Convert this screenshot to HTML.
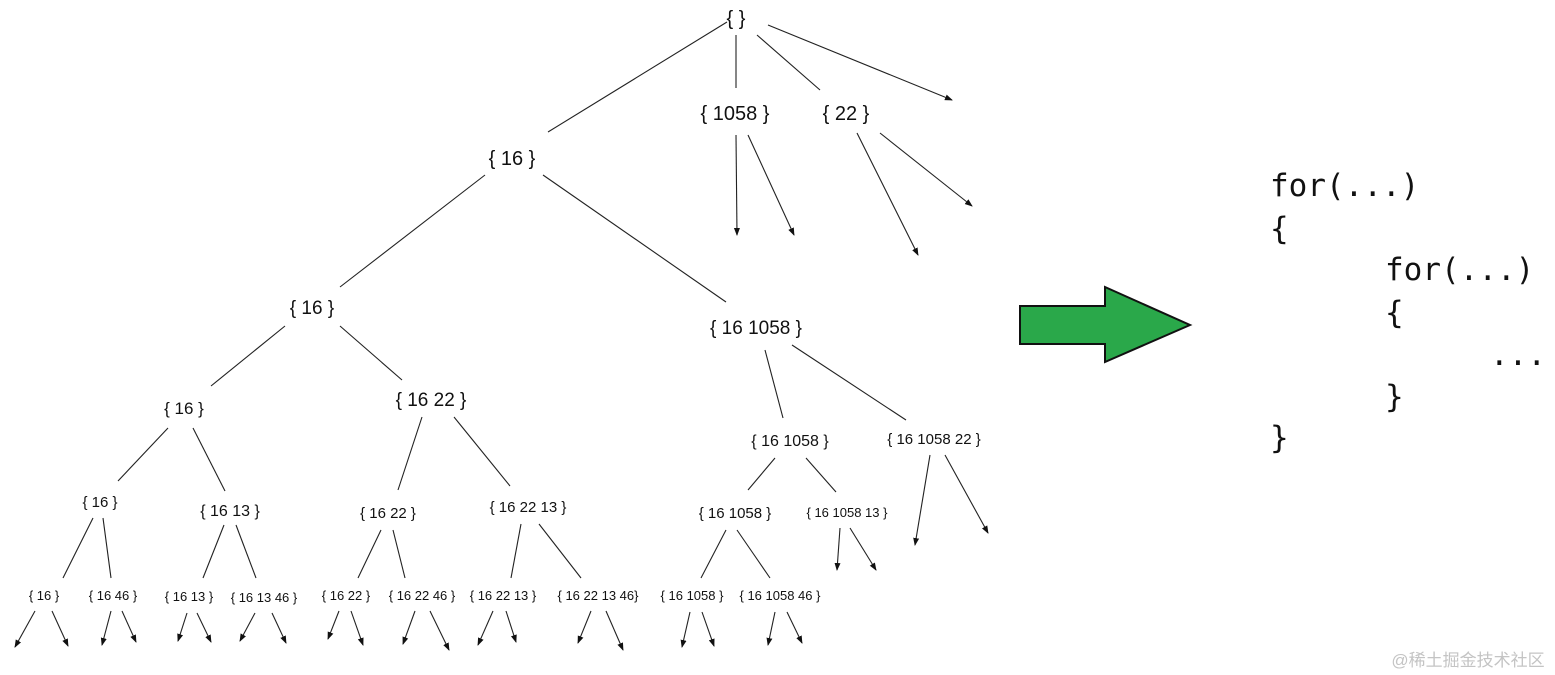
<!DOCTYPE html>
<html><head><meta charset="utf-8"><style>
html,body{margin:0;padding:0;background:#fff;}
svg{display:block;}
text{font-family:"Liberation Sans",Arial,sans-serif;fill:#111;text-anchor:middle;}
.c{font-family:"DejaVu Sans Mono","Liberation Mono",monospace;font-size:31px;text-anchor:start;fill:#111;}
</style></head><body>
<svg width="1555" height="675" viewBox="0 0 1555 675" xmlns="http://www.w3.org/2000/svg">
<defs><marker id="a" markerWidth="8" markerHeight="8" refX="7" refY="4" orient="auto" markerUnits="userSpaceOnUse"><path d="M0,1 L8,4 L0,7 Z" fill="#111"/></marker></defs>
<g stroke="#222" stroke-width="1.1" fill="none">
<line x1="727" y1="22" x2="548" y2="132"/>
<line x1="736" y1="35" x2="736" y2="88"/>
<line x1="757" y1="35" x2="820" y2="90"/>
<line x1="768" y1="25" x2="952" y2="100" marker-end="url(#a)"/>
<line x1="736" y1="135" x2="737" y2="235" marker-end="url(#a)"/>
<line x1="748" y1="135" x2="794" y2="235" marker-end="url(#a)"/>
<line x1="857" y1="133" x2="918" y2="255" marker-end="url(#a)"/>
<line x1="880" y1="133" x2="972" y2="206" marker-end="url(#a)"/>
<line x1="485" y1="175" x2="340" y2="287"/>
<line x1="543" y1="175" x2="726" y2="302"/>
<line x1="285" y1="326" x2="211" y2="386"/>
<line x1="340" y1="326" x2="402" y2="380"/>
<line x1="765" y1="350" x2="783" y2="418"/>
<line x1="792" y1="345" x2="906" y2="420"/>
<line x1="168" y1="428" x2="118" y2="481"/>
<line x1="193" y1="428" x2="225" y2="491"/>
<line x1="422" y1="417" x2="398" y2="490"/>
<line x1="454" y1="417" x2="510" y2="486"/>
<line x1="775" y1="458" x2="748" y2="490"/>
<line x1="806" y1="458" x2="836" y2="492"/>
<line x1="930" y1="455" x2="915" y2="545" marker-end="url(#a)"/>
<line x1="945" y1="455" x2="988" y2="533" marker-end="url(#a)"/>
<line x1="93" y1="518" x2="63" y2="578"/>
<line x1="103" y1="518" x2="111" y2="578"/>
<line x1="224" y1="525" x2="203" y2="578"/>
<line x1="236" y1="525" x2="256" y2="578"/>
<line x1="381" y1="530" x2="358" y2="578"/>
<line x1="393" y1="530" x2="405" y2="578"/>
<line x1="521" y1="524" x2="511" y2="578"/>
<line x1="539" y1="524" x2="581" y2="578"/>
<line x1="726" y1="530" x2="701" y2="578"/>
<line x1="737" y1="530" x2="770" y2="578"/>
<line x1="840" y1="528" x2="837" y2="570" marker-end="url(#a)"/>
<line x1="850" y1="528" x2="876" y2="570" marker-end="url(#a)"/>
<g marker-end="url(#a)">
<line x1="35" y1="611" x2="15" y2="647"/><line x1="52" y1="611" x2="68" y2="646"/>
<line x1="111" y1="611" x2="102" y2="645"/><line x1="122" y1="611" x2="136" y2="642"/>
<line x1="187" y1="613" x2="178" y2="641"/><line x1="197" y1="613" x2="211" y2="642"/>
<line x1="255" y1="613" x2="240" y2="641"/><line x1="272" y1="613" x2="286" y2="643"/>
<line x1="339" y1="611" x2="328" y2="639"/><line x1="351" y1="611" x2="363" y2="645"/>
<line x1="415" y1="611" x2="403" y2="644"/><line x1="430" y1="611" x2="449" y2="650"/>
<line x1="493" y1="611" x2="478" y2="645"/><line x1="506" y1="611" x2="516" y2="642"/>
<line x1="591" y1="611" x2="578" y2="643"/><line x1="606" y1="611" x2="623" y2="650"/>
<line x1="690" y1="612" x2="682" y2="647"/><line x1="702" y1="612" x2="714" y2="646"/>
<line x1="775" y1="612" x2="768" y2="645"/><line x1="787" y1="612" x2="802" y2="643"/>
</g>
</g>
<text x="736" y="25" font-size="20">{ }</text>
<text x="735" y="120" font-size="20">{ 1058 }</text>
<text x="846" y="120" font-size="20">{ 22 }</text>
<text x="512" y="165" font-size="20">{ 16 }</text>
<text x="312" y="314" font-size="19">{ 16 }</text>
<text x="756" y="334" font-size="19">{ 16 1058 }</text>
<text x="184" y="414" font-size="17">{ 16 }</text>
<text x="431" y="406" font-size="19">{ 16 22 }</text>
<text x="790" y="446" font-size="16">{ 16 1058 }</text>
<text x="934" y="444" font-size="15">{ 16 1058 22 }</text>
<text x="100" y="507" font-size="15">{ 16 }</text>
<text x="230" y="516" font-size="16">{ 16 13 }</text>
<text x="388" y="518" font-size="15">{ 16 22 }</text>
<text x="528" y="512" font-size="15">{ 16 22 13 }</text>
<text x="735" y="518" font-size="15">{ 16 1058 }</text>
<text x="847" y="517" font-size="13">{ 16 1058 13 }</text>
<g font-size="13">
<text x="44" y="600">{ 16 }</text>
<text x="113" y="600">{ 16 46 }</text>
<text x="189" y="601">{ 16 13 }</text>
<text x="264" y="602">{ 16 13 46 }</text>
<text x="346" y="600">{ 16 22 }</text>
<text x="422" y="600">{ 16 22 46 }</text>
<text x="503" y="600">{ 16 22 13 }</text>
<text x="598" y="600">{ 16 22 13 46}</text>
<text x="692" y="600">{ 16 1058 }</text>
<text x="780" y="600">{ 16 1058 46 }</text>
</g>
<polygon points="1020,306 1105,306 1105,287 1190,325 1105,362 1105,344 1020,344" fill="#2aa84a" stroke="#111" stroke-width="2"/>
<text class="c" x="1270" y="196">for(...)</text>
<text class="c" x="1270" y="239">{</text>
<text class="c" x="1385" y="280">for(...)</text>
<text class="c" x="1385" y="323">{</text>
<text class="c" x="1490" y="365">...</text>
<text class="c" x="1385" y="407">}</text>
<text class="c" x="1270" y="448">}</text>
<text x="1468" y="666" font-size="17" style="fill:#c4c4c4;font-family:'Liberation Sans','Noto Sans CJK SC',sans-serif">@稀土掘金技术社区</text>
</svg>
</body></html>
